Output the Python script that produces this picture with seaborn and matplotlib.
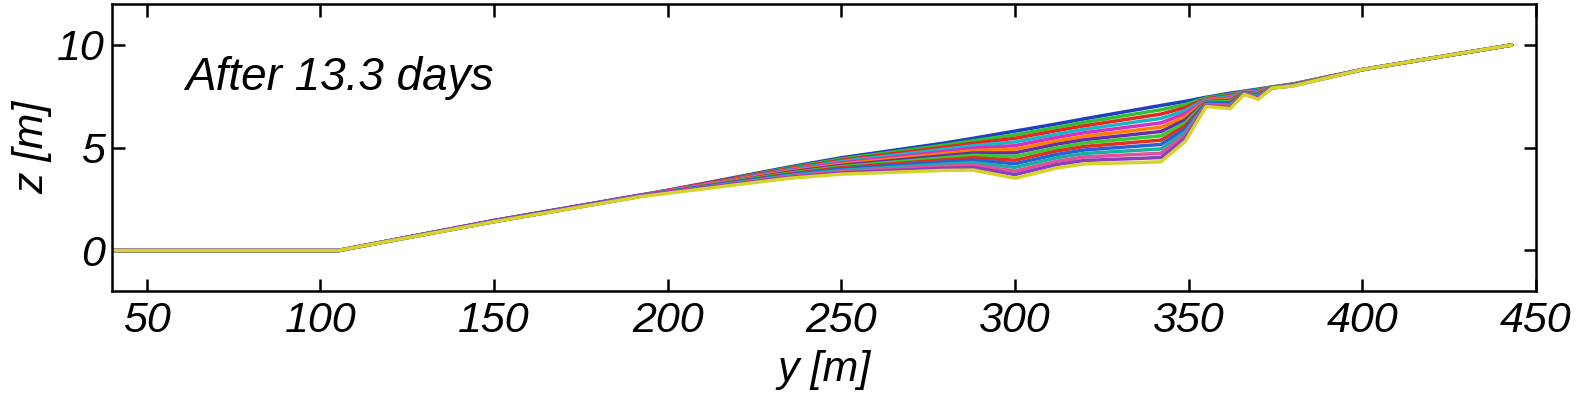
import numpy as np
import pandas as pd
import matplotlib
matplotlib.use('Agg')
import matplotlib.pyplot as plt
import seaborn as sns

# --- data ---
# common landward part (flat bed) and the far end of the slope
y_head = [40, 105]
z_head = [-0.03, -0.03]
y_tail = [400, 443]
z_tail = [8.8, 10.0]

# stations where the profiles differ
y_mid = [150, 192, 235, 250, 279, 288, 300, 312, 320, 342, 349, 355, 362, 366, 370, 374, 380]

# one row per profile, initial (top) -> after 13.3 days (bottom)
z_profiles = [
    [1.42, 2.65, 4.05, 4.50, 5.20, 5.45, 5.80, 6.15, 6.40, 7.05, 7.25, 7.45, 7.65, 7.75, 7.85, 7.95, 8.10],
    [1.40, 2.62, 4.01, 4.44, 5.10, 5.33, 5.62, 5.98, 6.23, 6.84, 7.10, 7.42, 7.59, 7.74, 7.81, 7.95, 8.09],
    [1.44, 2.67, 3.97, 4.38, 5.00, 5.21, 5.45, 5.82, 6.06, 6.63, 6.95, 7.38, 7.53, 7.73, 7.77, 7.94, 8.08],
    [1.39, 2.63, 3.92, 4.32, 4.90, 5.09, 5.27, 5.65, 5.89, 6.42, 6.80, 7.35, 7.48, 7.72, 7.73, 7.94, 8.08],
    [1.43, 2.68, 3.88, 4.25, 4.79, 4.97, 5.09, 5.49, 5.72, 6.20, 6.65, 7.31, 7.42, 7.70, 7.70, 7.93, 8.07],
    [1.41, 2.64, 3.84, 4.19, 4.69, 4.85, 4.92, 5.32, 5.55, 5.99, 6.50, 7.28, 7.36, 7.69, 7.66, 7.93, 8.06],
    [1.38, 2.61, 3.80, 4.13, 4.59, 4.73, 4.74, 5.16, 5.38, 5.78, 6.35, 7.24, 7.30, 7.68, 7.62, 7.93, 8.05],
    [1.42, 2.66, 3.75, 4.07, 4.49, 4.62, 4.56, 4.99, 5.22, 5.57, 6.20, 7.21, 7.25, 7.67, 7.58, 7.92, 8.05],
    [1.40, 2.63, 3.71, 4.01, 4.39, 4.50, 4.38, 4.83, 5.05, 5.36, 6.05, 7.17, 7.19, 7.66, 7.54, 7.92, 8.04],
    [1.44, 2.67, 3.67, 3.95, 4.29, 4.38, 4.21, 4.66, 4.88, 5.15, 5.90, 7.14, 7.13, 7.65, 7.50, 7.92, 8.03],
    [1.39, 2.62, 3.63, 3.88, 4.18, 4.26, 4.03, 4.50, 4.71, 4.93, 5.75, 7.10, 7.07, 7.63, 7.47, 7.91, 8.02],
    [1.41, 2.65, 3.58, 3.82, 4.08, 4.14, 3.85, 4.33, 4.54, 4.72, 5.60, 7.07, 7.02, 7.62, 7.43, 7.91, 8.02],
    [1.43, 2.64, 3.54, 3.76, 3.98, 4.02, 3.68, 4.17, 4.37, 4.51, 5.45, 7.03, 6.96, 7.61, 7.39, 7.90, 8.01],
    [1.38, 2.60, 3.50, 3.70, 3.88, 3.90, 3.50, 4.00, 4.20, 4.30, 5.30, 7.00, 6.90, 7.60, 7.35, 7.90, 8.00],
]

line_colors = ['#1f3fbf', '#2fbf2f', '#e8261f', '#14b8c8', '#d62fc4', '#ff8000', '#6a2fa8',
               '#33cc33', '#e0301e', '#2a5fd8', '#1ab0a0', '#e0509a', '#8a3fc0', '#d4d42a']

label_text = 'After 13.3 days'

# --- build long table ---
rows = []
for k, zrow in enumerate(z_profiles):
    ys = y_head + y_mid + y_tail
    zs = z_head + zrow + z_tail
    for i, (yy, zz) in enumerate(zip(ys, zs)):
        rows.append({'profile': k, 'order': i, 'y': yy, 'z': zz})
df = pd.DataFrame(rows)

# --- plot ---
sns.set_style('ticks')
plt.rcParams['font.family'] = ['Liberation Sans', 'DejaVu Sans']
plt.rcParams['font.style'] = 'italic'
plt.rcParams['text.color'] = 'black'
plt.rcParams['axes.labelcolor'] = 'black'

fig = plt.figure(figsize=(15.78, 3.93), dpi=100)
ax = fig.add_axes([112 / 1578, 1 - 291 / 393, (1536 - 112) / 1578, (291 - 4) / 393])

sns.lineplot(data=df, x='y', y='z', hue='profile', units='profile', estimator=None,
             sort=False, palette=line_colors, linewidth=2.5, legend=False, ax=ax)

ax.set_xlim(40, 450)
ax.set_ylim(-2, 12)
ax.set_xticks([50, 100, 150, 200, 250, 300, 350, 400, 450])
ax.set_yticks([0, 5, 10])

for s in ax.spines.values():
    s.set_linewidth(1.8)
    s.set_color('black')
ax.tick_params(direction='in', length=9, width=1.8, top=True, right=True,
               labelsize=31, pad=7, colors='black')
ax.tick_params(axis='y', pad=5)

ax.set_xlabel('y [m]', fontsize=31, labelpad=7)
ax.set_ylabel('z [m]', fontsize=31, labelpad=4)

ax.text(61, 8.4, label_text, fontsize=33, va='center', ha='left')

fig.savefig('out.png', dpi=100)
